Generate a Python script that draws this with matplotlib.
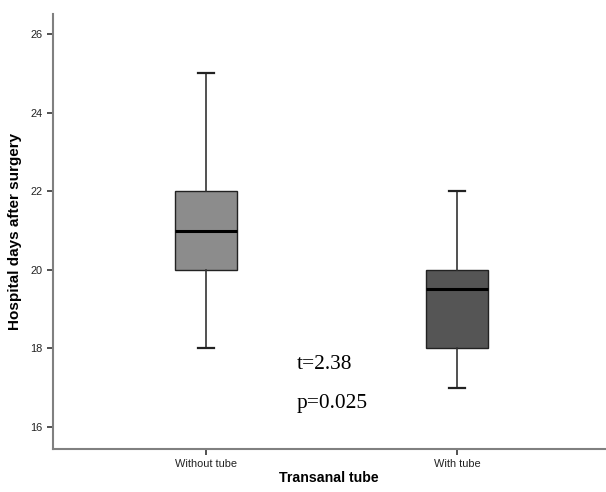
import matplotlib
matplotlib.use("Agg")
from matplotlib import pyplot as plt

# Data: five-number summaries
groups = ["Without tube", "With tube"]
whisker_low = [18, 17]
q1 = [20, 18]
medians = [21, 19.5]
q3 = [22, 20]
whisker_high = [25, 22]
box_colors = ["#8c8c8c", "#555555"]

t_text = "t=2.38"
p_text = "p=0.025"

plt.rcParams['font.family'] = ['Liberation Sans', 'DejaVu Sans']

fig = plt.figure(figsize=(6.06, 4.92), dpi=100)
ax = fig.add_axes([0.0875, 0.0874, 0.911, 0.884])

stats = []
for i in range(len(groups)):
    stats.append({
        'label': groups[i],
        'whislo': whisker_low[i],
        'q1': q1[i],
        'med': medians[i],
        'q3': q3[i],
        'whishi': whisker_high[i],
    })

bp = ax.bxp(stats, positions=[1, 2], widths=0.25, patch_artist=True,
            showfliers=False,
            boxprops=dict(edgecolor='#222222', linewidth=1.0),
            medianprops=dict(color='black', linewidth=2.2),
            whiskerprops=dict(color='#333333', linewidth=1.2),
            capprops=dict(color='#222222', linewidth=1.6),
            capwidths=0.065)
for patch, c in zip(bp['boxes'], box_colors):
    patch.set_facecolor(c)

ax.set_xlim(0.39, 2.59)
ax.set_ylim(15.44, 26.51)
ax.set_yticks([16, 18, 20, 22, 24, 26])

for side in ['top', 'right']:
    ax.spines[side].set_visible(False)
for side in ['left', 'bottom']:
    ax.spines[side].set_color('#808080')
    ax.spines[side].set_linewidth(1.5)

ax.tick_params(axis='both', labelsize=7.9, length=4, width=1.2, color='#333333',
               labelcolor='#222222')

ax.set_xlabel('Transanal tube', fontsize=10.2, fontweight='bold', labelpad=1)
ax.set_ylabel('Hospital days after surgery', fontsize=11, fontweight='bold', labelpad=6)

ax.text(1.36, 17.58, t_text, fontsize=15.4, family=['Liberation Serif', 'DejaVu Serif'],
        va='center', ha='left')
ax.text(1.36, 16.6, p_text, fontsize=15.4, family=['Liberation Serif', 'DejaVu Serif'],
        va='center', ha='left')

plt.savefig('out.png', dpi=100)
